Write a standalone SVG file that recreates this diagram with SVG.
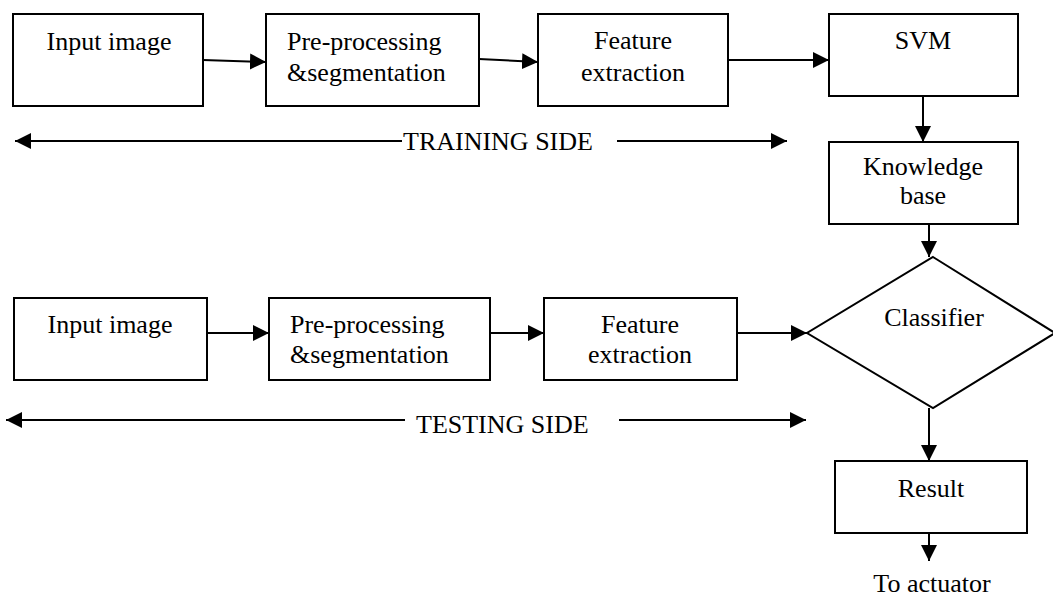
<svg xmlns="http://www.w3.org/2000/svg" width="1053" height="597" viewBox="0 0 1053 597">
<style>
.box{fill:#fff;stroke:#000;stroke-width:2}
.t{font-family:"Liberation Serif","Times New Roman",serif;font-size:26px;fill:#000}
.c{text-anchor:middle}
.ln{fill:none;stroke:#000;stroke-width:2}
</style>
<defs>
<marker id="ah" markerUnits="userSpaceOnUse" markerWidth="17" markerHeight="16" refX="16" refY="8" orient="auto">
<path d="M0,0 L16,8 L0,16 Z" fill="#000"/>
</marker>
</defs>
<rect width="1053" height="597" fill="#fff"/>
<g id="connectors">
<line class="ln" x1="203" y1="60" x2="266" y2="62" marker-end="url(#ah)"/>
<line class="ln" x1="479" y1="59" x2="538" y2="62" marker-end="url(#ah)"/>
<line class="ln" x1="728" y1="60" x2="829" y2="60" marker-end="url(#ah)"/>
<line class="ln" x1="923" y1="96" x2="923" y2="142" marker-end="url(#ah)"/>
<line class="ln" x1="929" y1="224" x2="929" y2="257" marker-end="url(#ah)"/>
<line class="ln" x1="207" y1="333" x2="269" y2="333" marker-end="url(#ah)"/>
<line class="ln" x1="486" y1="333" x2="544" y2="333" marker-end="url(#ah)"/>
<line class="ln" x1="737" y1="333" x2="807" y2="333" marker-end="url(#ah)"/>
<line class="ln" x1="929" y1="408" x2="929" y2="461" marker-end="url(#ah)"/>
<line class="ln" x1="929" y1="533" x2="929" y2="561" marker-end="url(#ah)"/>
<line class="ln" x1="402" y1="141" x2="15" y2="141" marker-end="url(#ah)"/>
<line class="ln" x1="617" y1="141" x2="787" y2="141" marker-end="url(#ah)"/>
<line class="ln" x1="405" y1="420" x2="6" y2="420" marker-end="url(#ah)"/>
<line class="ln" x1="619" y1="420" x2="806" y2="420" marker-end="url(#ah)"/>
</g>
<g id="train-input">
<rect class="box" x="13" y="14" width="190" height="92"/>
<text class="t c" x="109" y="50">Input image</text>
</g>
<g id="train-pre">
<rect class="box" x="266" y="14" width="213" height="92"/>
<text class="t" x="287" y="50">Pre-processing</text>
<text class="t" x="287" y="81">&amp;segmentation</text>
</g>
<g id="train-feature">
<rect class="box" x="538" y="14" width="190" height="92"/>
<text class="t c" x="633" y="49">Feature</text>
<text class="t c" x="633" y="81">extraction</text>
</g>
<g id="svm">
<rect class="box" x="829" y="14" width="189" height="82"/>
<text class="t c" x="923" y="49">SVM</text>
</g>
<g id="knowledge">
<rect class="box" x="829" y="142" width="189" height="82"/>
<text class="t c" x="923" y="175">Knowledge</text>
<text class="t c" x="923" y="204">base</text>
</g>
<g id="training-label">
<text class="t" x="403" y="150">TRAINING SIDE</text>
</g>
<g id="test-input">
<rect class="box" x="14" y="298" width="193" height="82"/>
<text class="t c" x="110" y="333">Input image</text>
</g>
<g id="test-pre">
<rect class="box" x="269" y="298" width="221" height="82"/>
<text class="t" x="290" y="333">Pre-processing</text>
<text class="t" x="290" y="363">&amp;segmentation</text>
</g>
<g id="test-feature">
<rect class="box" x="544" y="298" width="193" height="82"/>
<text class="t c" x="640" y="333">Feature</text>
<text class="t c" x="640" y="363">extraction</text>
</g>
<g id="testing-label">
<text class="t" x="416" y="433">TESTING SIDE</text>
</g>
<g id="classifier">
<polygon class="box" points="933,257 1055,333 933,408 807,333"/>
<text class="t c" x="934" y="326">Classifier</text>
</g>
<g id="result">
<rect class="box" x="835" y="461" width="192" height="72"/>
<text class="t c" x="931" y="497">Result</text>
</g>
<g id="actuator">
<text class="t c" x="932" y="592">To actuator</text>
</g>
</svg>
